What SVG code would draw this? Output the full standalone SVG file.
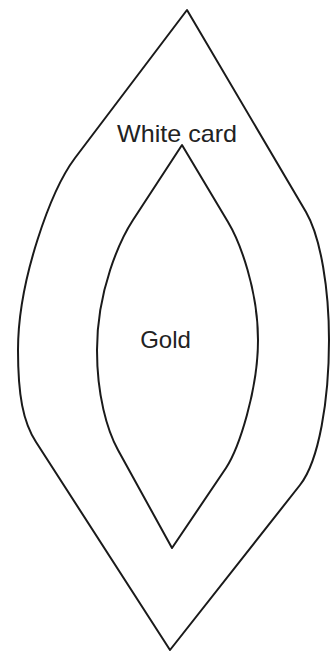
<svg xmlns="http://www.w3.org/2000/svg" width="330" height="654" viewBox="0 0 330 654">
<style>
.shape{fill:none;stroke:#1a1a1a;stroke-width:2;stroke-linejoin:round}
.lbl{font-family:"Liberation Sans",Arial,sans-serif;font-size:24px;fill:#222;text-anchor:middle}
</style>
<rect width="330" height="654" fill="#fff"/>
<g id="outer">
<path class="shape" d="M187,10 L75,158 C51,190 18,280 18,350 C18,395 23,422 36,442 L170,650 L300,485 C319,461 329,400 329,340 C329,290 321,238 306,212 Z"/>
<text class="lbl" x="177" y="142" textLength="120" lengthAdjust="spacingAndGlyphs">White card</text>
</g>
<g id="inner">
<path class="shape" d="M182,145 L133,220 C120,240 97,290 97,350 C97,395 107,430 118,450 L172,548 L226,468 C239,448 258,390 258,340 C258,290 240,242 228,222 Z"/>
<text class="lbl" x="165.5" y="348">Gold</text>
</g>
</svg>
